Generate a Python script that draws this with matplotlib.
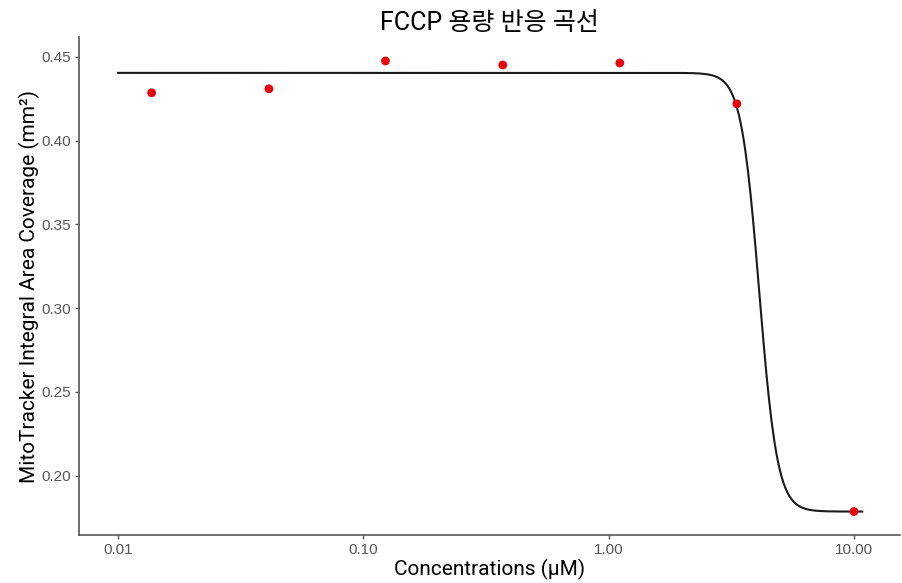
#!/usr/bin/env python3
"""FCCP dose-response curve (MitoTracker area coverage vs concentration)."""

import matplotlib
matplotlib.use("Agg")

import matplotlib.pyplot as plt
import numpy as np

# Measured points
concentrations = [0.0137, 0.0412, 0.123, 0.370, 1.11, 3.33, 10.0]
coverage = [0.4286, 0.4310, 0.4476, 0.4452, 0.4464, 0.4220, 0.1786]

# Fitted 4-parameter log-logistic model
fit_top = 0.4405
fit_bottom = 0.1786
fit_ec50 = 4.11
fit_hill = 11.7
fit_x_range = (0.01, 10.8)

x_ticks = [0.01, 0.10, 1.00, 10.00]
x_tick_labels = ["0.01", "0.10", "1.00", "10.00"]
y_ticks = [0.20, 0.25, 0.30, 0.35, 0.40, 0.45]


def main() -> None:
    fig = plt.figure(figsize=(9.03, 5.83), dpi=100)
    ax = fig.add_axes([0.0875, 0.0823, 0.9092, 0.8542])

    xs = np.logspace(np.log10(fit_x_range[0]), np.log10(fit_x_range[1]), 600)
    ys = fit_bottom + (fit_top - fit_bottom) / (1.0 + (xs / fit_ec50) ** fit_hill)
    ax.plot(xs, ys, color="#1a1a1a", linewidth=1.5, zorder=2)
    ax.scatter(concentrations, coverage, color="#e8000b", s=40, zorder=3,
               edgecolors="none")

    ax.set_xscale("log")
    ax.set_xlim(0.00693, 15.4)
    ax.set_ylim(0.1646, 0.4619)
    ax.set_xticks(x_ticks)
    ax.set_xticklabels(x_tick_labels)
    ax.xaxis.set_minor_locator(matplotlib.ticker.NullLocator())
    ax.set_yticks(y_ticks)
    ax.set_yticklabels([f"{v:.2f}" for v in y_ticks])

    for side in ("top", "right"):
        ax.spines[side].set_visible(False)
    for side in ("left", "bottom"):
        ax.spines[side].set_color("#555555")
        ax.spines[side].set_linewidth(1.2)
    ax.tick_params(axis="both", colors="#555555", length=3, width=1.0,
                   labelsize=11, labelcolor="#555555", pad=3)
    for lbl in ax.get_xticklabels() + ax.get_yticklabels():
        lbl.set_family("Liberation Sans")

    fams = ["Roboto", "Noto Sans CJK KR", "DejaVu Sans"]
    ax.set_title("FCCP 용량 반응 곡선", family=fams, fontsize=18, pad=5)
    ax.set_xlabel("Concentrations (\u03bcM)", family=fams, fontsize=15, labelpad=1)
    ax.set_ylabel("MitoTracker Integral Area Coverage (mm\u00b2)", family=fams,
                  fontsize=15, labelpad=1)

    fig.savefig("out.png", dpi=100)
    plt.close(fig)


if __name__ == "__main__":
    main()
